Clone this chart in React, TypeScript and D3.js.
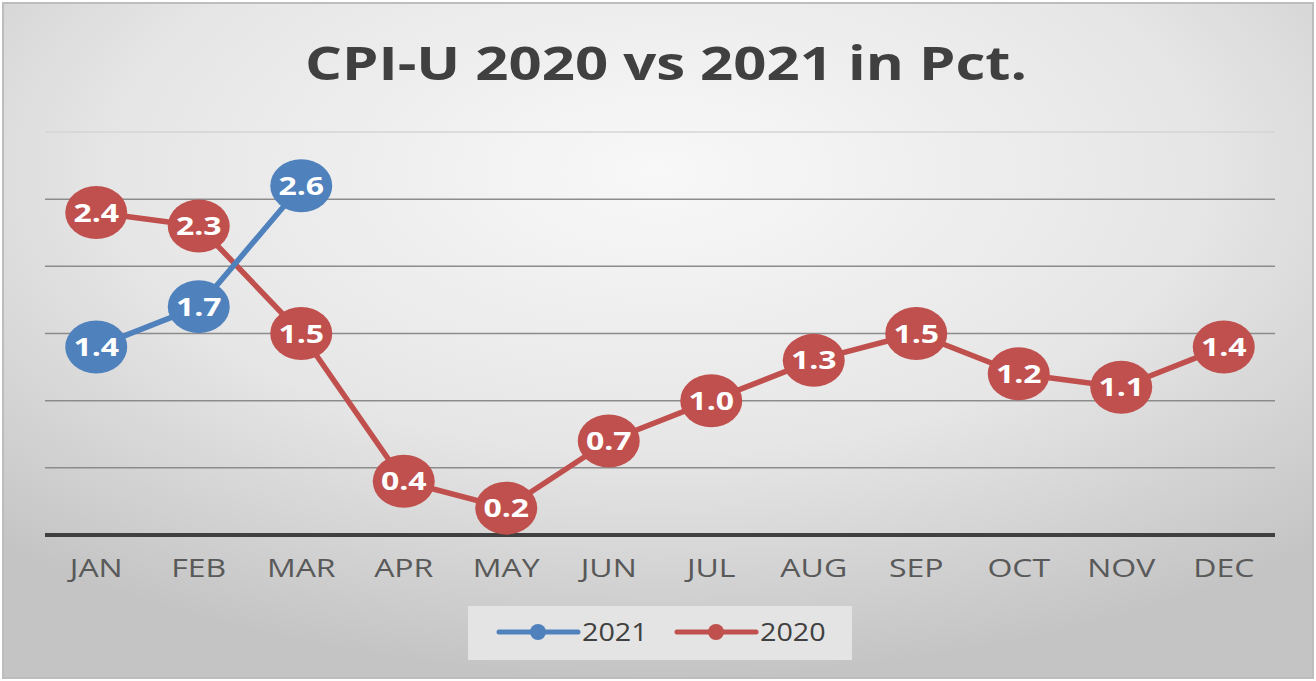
import React, { useEffect, useRef } from 'react';
import * as d3 from 'd3';

const months = ['JAN', 'FEB', 'MAR', 'APR', 'MAY', 'JUN', 'JUL', 'AUG', 'SEP', 'OCT', 'NOV', 'DEC'];
const cpi2021 = [1.4, 1.7, 2.6];
const cpi2020 = [2.4, 2.3, 1.5, 0.4, 0.2, 0.7, 1.0, 1.3, 1.5, 1.2, 1.1, 1.4];
const gridTicks = [0, 0.5, 1, 1.5, 2, 2.5, 3];
const seriesNames = ['2021', '2020'];
const seriesColors = ['#4F81BD', '#C0504D'];

const W = 1316;
const H = 681;
const STRETCH = 1.28; // the original picture is squeezed wide

const App: React.FC = () => {
  const svgRef = useRef<SVGSVGElement>(null);

  useEffect(() => {
    if (!svgRef.current) return;
    const svg = d3.select(svgRef.current);
    svg.selectAll('*').remove();

    const margin = { top: 132, right: 41, bottom: 146, left: 45 };
    const plotW = W - margin.left - margin.right;
    const plotH = H - margin.top - margin.bottom;

    const x = d3.scaleBand<string>().domain(months).range([0, plotW]);
    const y = d3.scaleLinear().domain([0, 3]).range([plotH, 0]);

    // background
    const defs = svg.append('defs');
    const grad = defs.append('radialGradient')
      .attr('id', 'bg')
      .attr('cx', '50%').attr('cy', '25%').attr('r', '75%');
    grad.append('stop').attr('offset', '0%').attr('stop-color', '#f8f8f8');
    grad.append('stop').attr('offset', '55%').attr('stop-color', '#e6e6e6');
    grad.append('stop').attr('offset', '100%').attr('stop-color', '#c4c4c4');

    svg.append('rect').attr('width', W).attr('height', H).attr('fill', '#ffffff');
    svg.append('rect')
      .attr('x', 3).attr('y', 3).attr('width', W - 6).attr('height', H - 6)
      .attr('fill', 'url(#bg)')
      .attr('stroke', '#bdbdbd').attr('stroke-width', 2);

    // title
    svg.append('text')
      .attr('x', 666).attr('y', 80)
      .attr('text-anchor', 'middle')
      .attr('font-family', 'Open Sans, sans-serif')
      .attr('font-weight', 700)
      .attr('font-size', 47)
      .attr('fill', '#404040')
      .attr('textLength', 722)
      .attr('lengthAdjust', 'spacingAndGlyphs')
      .text('CPI-U 2020 vs 2021 in Pct.');

    const g = svg.append('g').attr('transform', `translate(${margin.left},${margin.top})`);

    // gridlines
    g.selectAll('line.grid')
      .data(gridTicks.filter(t => t > 0))
      .join('line')
      .attr('class', 'grid')
      .attr('x1', 0).attr('x2', plotW)
      .attr('y1', d => y(d)).attr('y2', d => y(d))
      .attr('stroke', d => (d === 3 ? '#d4d4d4' : '#8c8c8c'))
      .attr('stroke-width', 1.5);

    // x axis
    g.append('line')
      .attr('x1', 0).attr('x2', plotW)
      .attr('y1', y(0)).attr('y2', y(0))
      .attr('stroke', '#404040').attr('stroke-width', 4);

    g.selectAll('text.month')
      .data(months)
      .join('text')
      .attr('class', 'month')
      .attr('transform', d => `translate(${(x(d) ?? 0) + x.bandwidth() / 2},${y(0) + 42}) scale(${STRETCH},1)`)
      .attr('text-anchor', 'middle')
      .attr('font-family', 'Open Sans, sans-serif')
      .attr('font-size', 25)
      .attr('fill', '#595959')
      .text(d => d);

    const cx = (i: number) => (x(months[i]) ?? 0) + x.bandwidth() / 2;
    const line = d3.line<number>().x((_, i) => cx(i)).y(d => y(d));

    const drawSeries = (data: number[], color: string) => {
      g.append('path')
        .datum(data)
        .attr('fill', 'none')
        .attr('stroke', color)
        .attr('stroke-width', 5.5)
        .attr('stroke-linejoin', 'round')
        .attr('d', line);
      const pts = g.append('g').selectAll('g').data(data).join('g')
        .attr('transform', (d, i) => `translate(${cx(i)},${y(d)})`);
      pts.append('ellipse').attr('rx', 31).attr('ry', 26.5).attr('fill', color);
      pts.append('text')
        .attr('transform', `scale(${STRETCH},1)`)
        .attr('text-anchor', 'middle')
        .attr('dy', '0.36em')
        .attr('font-family', 'Open Sans, sans-serif')
        .attr('font-weight', 700)
        .attr('font-size', 25)
        .attr('fill', '#ffffff')
        .text(d => d.toFixed(1));
    };

    drawSeries(cpi2020, seriesColors[1]);
    drawSeries(cpi2021, seriesColors[0]);

    // legend
    const lg = svg.append('g').attr('transform', 'translate(468,606)');
    lg.append('rect').attr('width', 384).attr('height', 54).attr('fill', '#e4e4e4');
    const items = [
      { name: seriesNames[0], color: seriesColors[0], x: 31 },
      { name: seriesNames[1], color: seriesColors[1], x: 209 },
    ];
    items.forEach(it => {
      const ig = lg.append('g').attr('transform', `translate(${it.x},26)`);
      ig.append('line').attr('x1', 0).attr('x2', 79).attr('stroke', it.color)
        .attr('stroke-width', 5).attr('stroke-linecap', 'round');
      ig.append('circle').attr('cx', 39).attr('r', 8).attr('fill', it.color);
      ig.append('text')
        .attr('transform', `translate(83,0) scale(1.15,1)`)
        .attr('dy', '0.36em')
        .attr('font-family', 'Open Sans, sans-serif')
        .attr('font-size', 25)
        .attr('fill', '#404040')
        .text(it.name);
    });
  }, []);

  return (
    <svg
      ref={svgRef}
      width={W}
      height={H}
      style={{ position: 'absolute', left: 0, top: 0 }}
    />
  );
};

export default App;
